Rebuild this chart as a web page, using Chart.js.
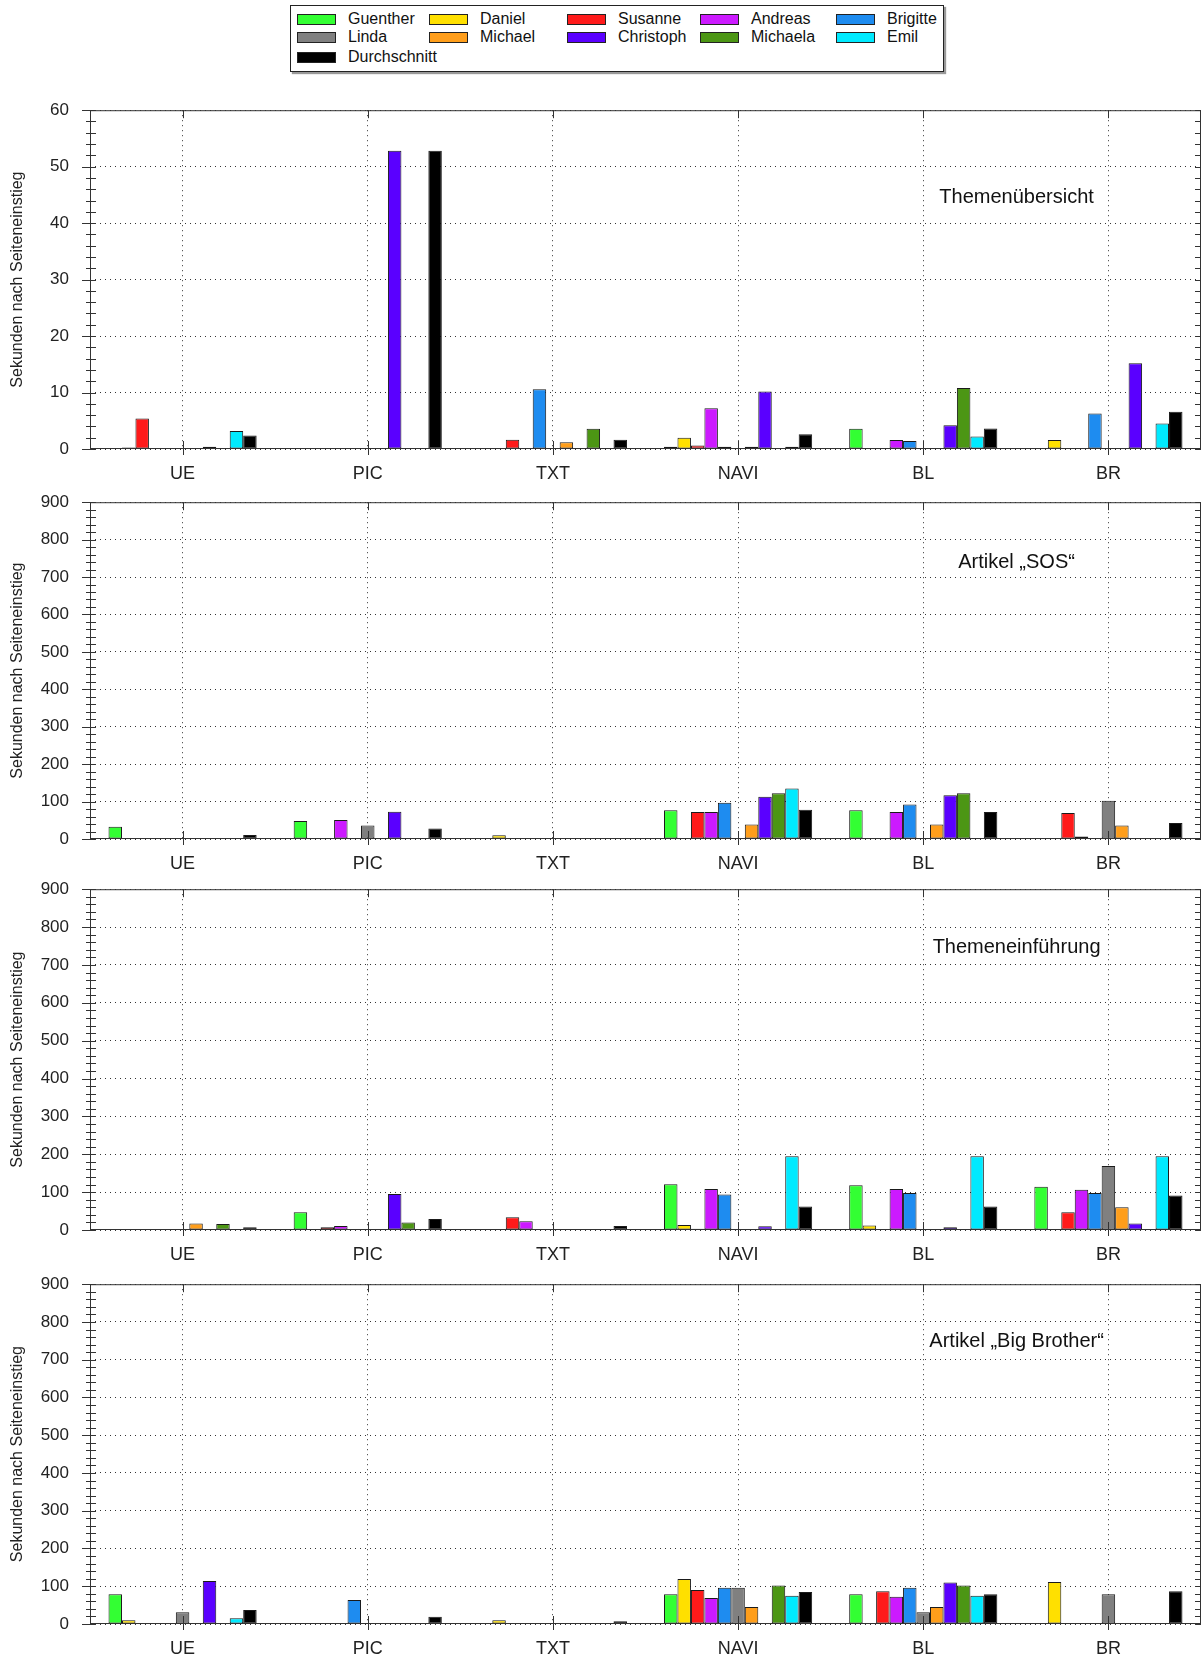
<!DOCTYPE html>
<html>
<head>
<meta charset="utf-8">
<script src="https://cdn.jsdelivr.net/npm/chart.js@4"></script>
<style>
  body { margin: 0; background: #fff; width: 1203px; height: 1658px; position: relative; overflow: hidden;
         font-family: Arial, "Liberation Sans", sans-serif; }
  canvas { position: absolute; left: 0; }
  #legend { position: absolute; left: 290px; top: 5px; width: 652px; height: 65px; border: 1px solid #222;
            box-shadow: 2px 2px 1px #999; background: #fff; }
  .item { position: absolute; height: 18px; font-size: 16px; line-height: 18px; color: #111; white-space: nowrap; }
  .sw { position: absolute; left: 0; top: 4px; width: 37px; height: 9px; border: 1px solid #222; }
  .item span { position: absolute; left: 51px; top: 0; }
</style>
</head>
<body>
<div id="legend"></div>
<canvas id="c0" width="1203" height="402" style="top:79px"></canvas>
<canvas id="c1" width="1203" height="400" style="top:471px"></canvas>
<canvas id="c2" width="1203" height="404" style="top:858px"></canvas>
<canvas id="c3" width="1203" height="403" style="top:1253px"></canvas>
<script>
// categories and series (dataset order = bar order inside a group)
const categories = ['UE', 'PIC', 'TXT', 'NAVI', 'BL', 'BR'];
const names = ['Guenther', 'Daniel', 'Susanne', 'Andreas', 'Brigitte',
               'Linda', 'Michael', 'Christoph', 'Michaela', 'Emil', 'Durchschnitt'];
const colors = ['#33ff33', '#ffe000', '#ff1a1a', '#cc1aff', '#1e8cf0',
                '#808080', '#ff9e1b', '#5a00ff', '#4c9614', '#00eaff', '#000000'];

// seconds after page entry, one row per person (same order as names)
const themenuebersicht = [
  [0, 0, 0, 0.4, 3.6, 0],
  [0.25, 0, 0, 2.0, 0, 1.6],
  [5.4, 0, 1.65, 0.6, 0.15, 0],
  [0, 0, 0, 7.2, 1.6, 0],
  [0, 0, 10.6, 0.4, 1.4, 6.3],
  [0, 0, 0, 0.15, 0, 0],
  [0, 0, 1.2, 0.4, 0, 0],
  [0.4, 52.8, 0, 10.2, 4.2, 15.2],
  [0, 0, 3.6, 0, 10.8, 0],
  [3.2, 0, 0, 0.4, 2.2, 4.5],
  [2.4, 52.8, 1.65, 2.6, 3.65, 6.6]
];
const artikelSos = [
  [33, 48, 0, 77, 77, 0],
  [2, 0, 9.7, 0, 0, 0],
  [2, 0, 0, 72, 0, 69.5],
  [0, 51, 0, 72, 72, 7],
  [2, 1, 2, 97, 92, 0],
  [0, 36, 0, 2, 2, 102],
  [0, 1, 0, 39, 39, 36],
  [0, 73, 0, 113, 117, 0],
  [0, 0, 0, 122, 122, 0],
  [0, 0, 0, 135, 0, 0],
  [10.5, 28, 2, 78, 72, 43]
];
const themeneinfuehrung = [
  [0, 47, 0, 121, 118, 114],
  [0, 0, 0, 13, 12, 0],
  [0, 7, 34, 3, 0, 47],
  [0, 10.5, 23, 108, 108, 106],
  [0, 0, 0, 94, 98, 98],
  [0, 2, 0, 0, 0, 169],
  [17, 0, 0, 2, 0, 60],
  [0, 95, 0, 10, 7, 17],
  [16, 20, 0, 0, 0, 0],
  [0, 0, 0, 195, 195, 195],
  [7, 29, 10.5, 62, 62, 91]
];
const artikelBigBrother = [
  [78.5, 0, 0, 78.5, 78.5, 0],
  [9.7, 0, 9.7, 119, 0, 111],
  [2, 0, 0, 90, 87, 0],
  [0, 0, 0, 69, 72, 0],
  [2, 63.5, 2, 96, 96, 0],
  [31, 0, 0, 96, 31, 78.5],
  [0, 0, 0, 45, 45, 0],
  [114, 2, 0, 0, 110, 0],
  [0, 0, 0, 102, 102, 0],
  [15, 0, 0, 75, 75, 0],
  [37, 19, 7, 85, 78.5, 87]
];

const panelData = [themenuebersicht, artikelSos, themeneinfuehrung, artikelBigBrother];
const panelLabels = ['Themenübersicht', 'Artikel „SOS“', 'Themeneinführung', 'Artikel „Big Brother“'];
const yMax = [60, 900, 900, 900];
const yStep = [10, 100, 100, 100];

const FONT = 'Arial, "Liberation Sans", sans-serif';
const labelY = [0.257, 0.18, 0.17, 0.17];

// legend (html, built from names/colors)
const legend = document.getElementById('legend');
const colLeft = [6, 138, 276, 409, 545];
const rowTop = [4, 22, 42];
names.forEach((n, i) => {
  const it = document.createElement('div');
  it.className = 'item';
  it.style.left = colLeft[i % 5] + 'px';
  it.style.top = rowTop[Math.floor(i / 5)] + 'px';
  it.innerHTML = '<div class="sw" style="background:' + colors[i] + '"></div><span>' + n + '</span>';
  legend.appendChild(it);
});

// axes frame, inside minor ticks and the panel caption
const framePlugin = {
  id: 'frame',
  afterDraw(chart, args, opts) {
    const { ctx, chartArea: a, scales: { x, y } } = chart;
    ctx.save();
    ctx.setLineDash([]);
    ctx.strokeStyle = '#333';
    ctx.lineWidth = 1;
    ctx.strokeRect(a.left + 0.5, a.top + 0.5, a.right - a.left - 1, a.bottom - a.top - 1);
    ctx.beginPath();
    const minor = opts.step / 5;
    for (let k = 0; k * minor <= y.max + 1e-9; k++) {
      const py = Math.round(y.getPixelForValue(k * minor)) + 0.5;
      const major = k % 5 === 0;
      ctx.moveTo(a.left - (major ? 8 : 4), py);
      ctx.lineTo(a.left + 6, py);
      ctx.moveTo(a.right - 6, py);
      ctx.lineTo(a.right, py);
    }
    x.ticks.forEach((t, i) => {
      const px = Math.round(x.getPixelForTick(i)) + 0.5;
      ctx.moveTo(px, a.bottom + 6);
      ctx.lineTo(px, a.bottom - 8);
      ctx.moveTo(px, a.top);
      ctx.lineTo(px, a.top + 8);
    });
    ctx.stroke();
    ctx.fillStyle = '#111';
    ctx.font = '20px ' + FONT;
    ctx.textAlign = 'center';
    ctx.textBaseline = 'middle';
    ctx.fillText(opts.label, a.left + 0.834 * (a.right - a.left), a.top + opts.ly * (a.bottom - a.top));
    ctx.restore();
  }
};

panelData.forEach((rows, p) => {
  new Chart(document.getElementById('c' + p), {
    type: 'bar',
    data: {
      labels: categories,
      datasets: rows.map((vals, i) => ({
        label: names[i],
        data: vals,
        backgroundColor: colors[i],
        borderColor: '#1a1a1a',
        borderWidth: 1,
        borderSkipped: false
      }))
    },
    options: {
      responsive: false,
      animation: false,
      layout: { padding: { top: 15, right: 2, left: 0, bottom: 0 } },
      datasets: { bar: { barPercentage: 1, categoryPercentage: 0.8 } },
      plugins: {
        legend: { display: false },
        tooltip: { enabled: false },
        frame: { label: panelLabels[p], ly: labelY[p], step: yStep[p] }
      },
      scales: {
        x: {
          grid: { offset: false, color: '#333', lineWidth: 1, drawTicks: false },
          border: { display: false, dash: [1, 4] },
          ticks: { font: { family: FONT, size: 18 }, color: '#222', padding: 14 },
          afterFit(s) { s.height = 32; }
        },
        y: {
          min: 0,
          max: yMax[p],
          ticks: { stepSize: yStep[p], font: { family: FONT, size: 17 }, color: '#222', padding: 21 },
          grid: { color: '#333', lineWidth: 1, drawTicks: false },
          border: { display: false, dash: [1, 4] },
          title: { display: true, text: 'Sekunden nach Seiteneinstieg', font: { family: FONT, size: 16 },
                   color: '#222', padding: { top: 8, bottom: 0 } },
          afterFit(s) { s.width = 90; }
        }
      }
    },
    plugins: [framePlugin]
  });
});
</script>
</body>
</html>
